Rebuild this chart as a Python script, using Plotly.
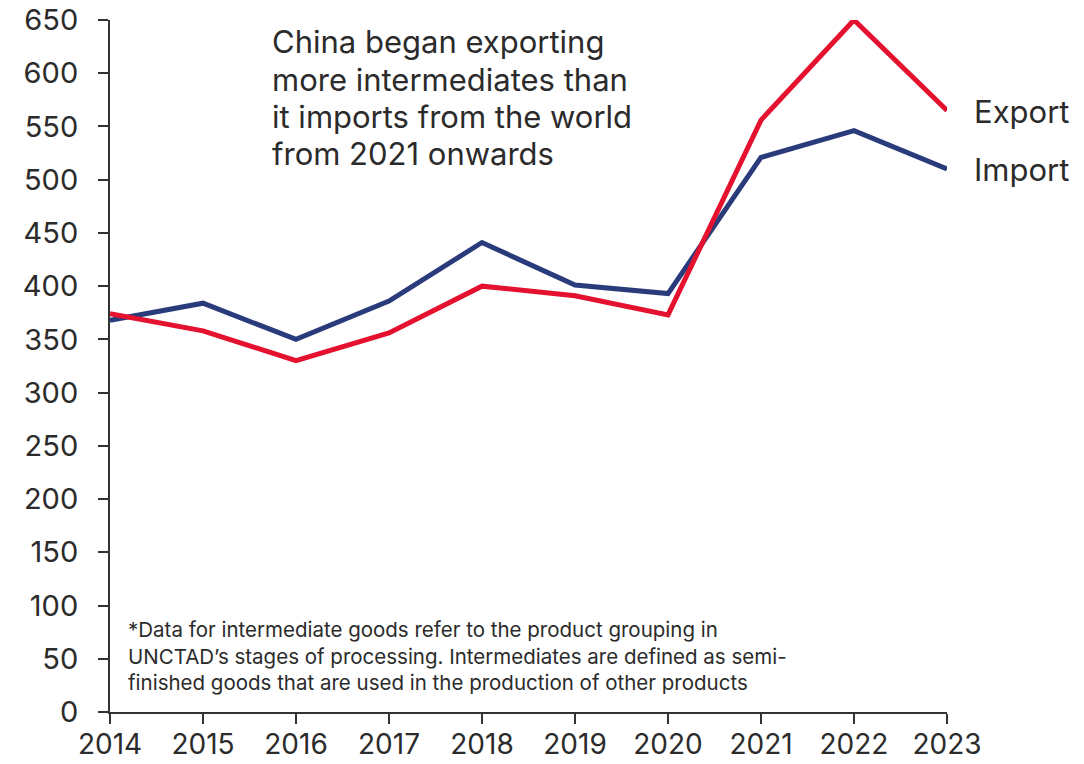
import plotly.graph_objects as go

years = [2014, 2015, 2016, 2017, 2018, 2019, 2020, 2021, 2022, 2023]
exports = [374, 358, 330, 356, 400, 391, 373, 556, 650, 565]
imports = [368, 384, 350, 386, 441, 401, 393, 521, 546, 510]
y_ticks = list(range(0, 651, 50))

note_lines = [
    "China began exporting",
    "more intermediates than",
    "it imports from the world",
    "from 2021 onwards",
]
footnote = (
    "*Data for intermediate goods refer to the product grouping in<br>"
    "UNCTAD\u2019s stages of processing. Intermediates are defined as semi-<br>"
    "finished goods that are used in the production of other products"
)

RED = "#E4112F"
NAVY = "#2A3B7B"
TEXT = "#2B2B2B"
FONT = "Inter"

W, H = 1084, 764
L, R, T, B = 110, 137, 20, 52


def px_x(p):
    return (p - L) / (W - L - R)


def px_y(p):
    return 1 - (p - T) / (H - T - B)


fig = go.Figure()
fig.add_trace(go.Scatter(x=years, y=imports, mode="lines", name="Import",
                         line=dict(color=NAVY, width=5), cliponaxis=False))
fig.add_trace(go.Scatter(x=years, y=exports, mode="lines", name="Export",
                         line=dict(color=RED, width=5), cliponaxis=False))

# series labels at the line ends
fig.add_annotation(x=years[-1], y=exports[-1], text="Export", xref="x", yref="y",
                   xanchor="left", yanchor="middle", xshift=25, yshift=-1, showarrow=False,
                   font=dict(family=FONT, size=31, color=TEXT))
fig.add_annotation(x=years[-1], y=imports[-1], text="Import", xref="x", yref="y",
                   xanchor="left", yanchor="middle", xshift=25, yshift=0, showarrow=False,
                   font=dict(family=FONT, size=31, color=TEXT))

# commentary block, one line per annotation for tight leading
for i, line in enumerate(note_lines):
    fig.add_annotation(x=px_x(270), y=px_y(42 + 37.3 * i), xref="paper", yref="paper",
                       text=line, showarrow=False, xanchor="left", yanchor="middle",
                       font=dict(family=FONT, size=31, color=TEXT))

fig.add_annotation(x=px_x(126), y=px_y(615), xref="paper", yref="paper", text=footnote,
                   showarrow=False, align="left", xanchor="left", yanchor="top",
                   font=dict(family=FONT, size=20.5, color=TEXT))

fig.update_layout(
    width=W, height=H,
    margin=dict(l=L, r=R, t=T, b=B, autoexpand=False),
    plot_bgcolor="white", paper_bgcolor="white",
    showlegend=False,
    font=dict(family=FONT, color=TEXT),
    xaxis=dict(range=[2014, 2023], tickvals=years, ticktext=[str(y) for y in years],
               showgrid=False, zeroline=False, showline=True, linecolor="#333333", linewidth=2,
               ticks="outside", ticklen=10, tickwidth=2, tickcolor="#333333",
               automargin=False, ticklabelstandoff=-4,
               tickfont=dict(family=FONT, size=28, color=TEXT)),
    yaxis=dict(range=[0, 650], tickvals=y_ticks,
               showgrid=False, zeroline=False, showline=True, linecolor="#333333", linewidth=2,
               ticks="outside", ticklen=10, tickwidth=2, tickcolor="#333333",
               automargin=False, ticklabelstandoff=14,
               tickfont=dict(family=FONT, size=29, color=TEXT)),
)

fig.write_html("out.html")
